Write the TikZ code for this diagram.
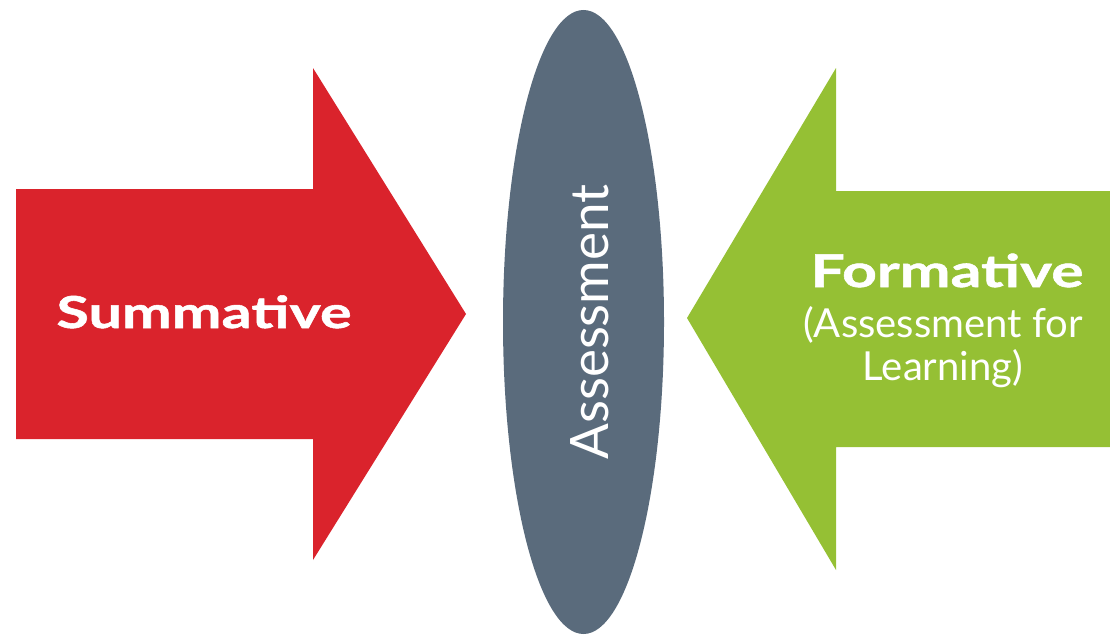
\documentclass[tikz,border=0pt]{standalone}
\usepackage{fontspec}
\setmainfont{Lato}
\newfontfamily\widebold[FakeStretch=1.35,FakeBold=1.2]{Lato Bold}
\usetikzlibrary{shapes.geometric}
\definecolor{sumred}{RGB}{218,35,44}
\definecolor{slate}{RGB}{90,107,124}
\definecolor{formgreen}{RGB}{149,192,52}
\tikzset{
 word/.style={text=white, inner sep=0pt, anchor=base},
 bigword/.style={word, font=\widebold\fontsize{44}{48}\selectfont},
 smallword/.style={word, font=\fontsize{40}{43}\selectfont}
}
\begin{document}
\begin{tikzpicture}[x=1pt,y=-1pt]
 \useasboundingbox (0,0) rectangle (1110,634);
 % summative arrow, pointing right
 \fill[sumred] (16,189) -- (313,189) -- (313,68) -- (466,314) -- (313,560) -- (313,439) -- (16,439) -- cycle;
 \node[bigword] (sum) at (204,328) {Summative};
 %
 % assessment lens
 \node[ellipse, fill=slate, minimum width=161pt, minimum height=624pt, inner sep=0pt] (ass) at (583.5,322) {};
 \node[word, rotate=90, font=\fontsize{53}{58}\selectfont] (asstext) at (608,322) {Assessment};
 %
 % formative arrow, pointing left
 \fill[formgreen] (1110,191) -- (836,191) -- (836,68) -- (687,318) -- (836,570) -- (836,447) -- (1110,447) -- cycle;
 \node[bigword, font=\widebold\fontsize{45}{50}\selectfont] (form) at (947,287) {Formative};
 \node[smallword] (forma) at (943,337) {(Assessment for};
 \node[smallword] (formb) at (943,380) {Learning)};
\end{tikzpicture}
\end{document}
